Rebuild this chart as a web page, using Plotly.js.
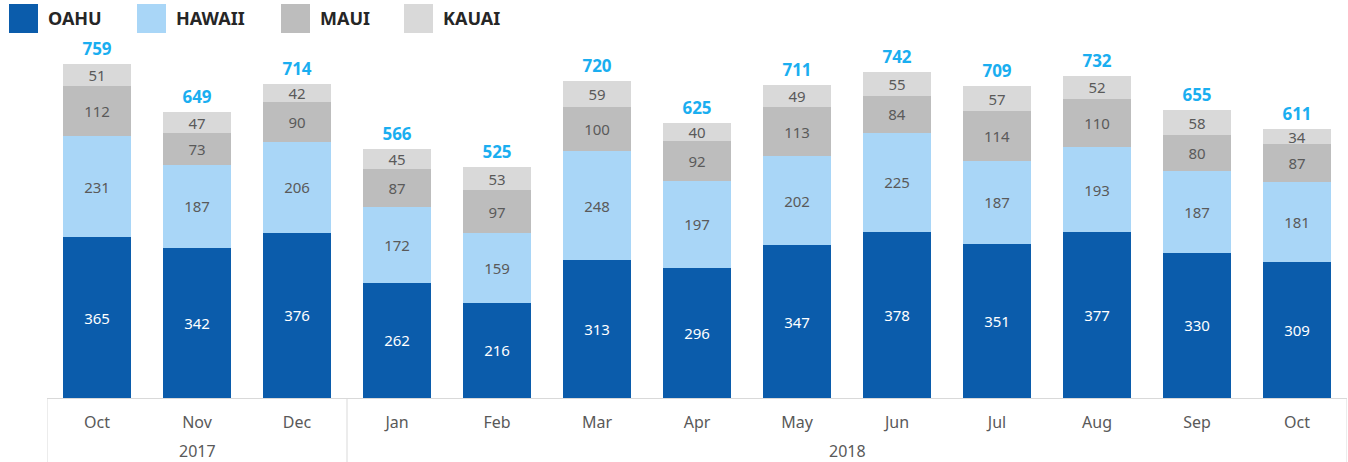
<!DOCTYPE html>
<html><head><meta charset="utf-8">
<script src="https://cdn.plot.ly/plotly-3.0.1.min.js"></script>
<style>html,body{margin:0;padding:0;background:#fff;}#chart{width:1348px;height:462px;}</style>
</head><body><div id="chart"></div>
<script>
const years  = ['2017','2017','2017','2018','2018','2018','2018','2018','2018','2018','2018','2018','2018'];
const months = ['Oct','Nov','Dec','Jan','Feb','Mar','Apr','May','Jun','Jul','Aug','Sep','Oct'];
const oahu   = [365,342,376,262,216,313,296,347,378,351,377,330,309];
const hawaii = [231,187,206,172,159,248,197,202,225,187,193,187,181];
const maui   = [112,73,90,87,97,100,92,113,84,114,110,80,87];
const kauai  = [51,47,42,45,53,59,40,49,55,57,52,58,34];
const totals = [759,649,714,566,525,720,625,711,742,709,732,655,611];
const seriesNames = ['OAHU','HAWAII','MAUI','KAUAI'];
const seriesColors = ['#0b5cab','#a9d6f7','#bdbdbd','#d9d9d9'];
const textColors = ['#ffffff','#5a5a5a','#5a5a5a','#5a5a5a'];
const seriesData = [oahu, hawaii, maui, kauai];

const FONT = 'Noto Sans, Open Sans, sans-serif';
const cats = months.map((m, i) => years[i] + ' ' + m);
const traces = seriesData.map((vals, i) => ({
  type: 'bar', x: cats, y: vals, name: seriesNames[i],
  marker: {color: seriesColors[i], line: {width: 0}},
  text: vals.map(String), textposition: 'inside', insidetextanchor: 'middle', textangle: 0,
  textfont: {family: FONT, size: 15, color: textColors[i]},
  constraintext: 'none', hoverinfo: 'skip', showlegend: false
}));
traces.push({
  type: 'scatter', mode: 'markers+text', x: cats, y: totals,
  marker: {size: 6, opacity: 0},
  text: totals.map(String), textposition: 'top center',
  textfont: {family: FONT, size: 17, color: '#1aaef0', weight: 'bold'},
  hoverinfo: 'skip', showlegend: false, cliponaxis: false
});

const PH = 358, PW = 1300, ML = 47, PB = 398;
const shapes = [], annotations = [];
// custom legend built from series names
const legendPos = [9, 137, 281, 404];
seriesNames.forEach((n, i) => {
  const x0 = legendPos[i];
  shapes.push({type: 'rect', xref: 'paper', yref: 'paper', x0: (x0-ML)/PW, x1: (x0+29-ML)/PW,
    y0: (PB-33)/PH, y1: (PB-4)/PH, fillcolor: seriesColors[i], line: {width: 0}});
  annotations.push({xref: 'paper', yref: 'paper', x: (x0+37-ML)/PW, y: (PB-18)/PH,
    xanchor: 'left', yanchor: 'middle', text: '<b>' + n + '</b>', showarrow: false,
    font: {family: FONT, size: 18, color: '#262626'}});
});
// year groups: dividers and labels derived from the years array
const groups = [];
years.forEach((y, i) => {
  if (!groups.length || groups[groups.length-1].y !== y) groups.push({y: y, s: i, e: i});
  else groups[groups.length-1].e = i;
});
const divY0 = -64/PH;
groups.forEach((g, k) => {
  if (k === 0) shapes.push({type: 'line', xref: 'x', yref: 'paper', x0: g.s-0.5, x1: g.s-0.5, y0: divY0, y1: 0, line: {color: '#d9d9d9', width: 1}});
  shapes.push({type: 'line', xref: 'x', yref: 'paper', x0: g.e+0.5, x1: g.e+0.5, y0: divY0, y1: 0, line: {color: '#d9d9d9', width: 1}});
  annotations.push({xref: 'x', yref: 'paper', x: (g.s + g.e)/2, y: -53/PH, xanchor: 'center', yanchor: 'middle',
    text: g.y, showarrow: false, font: {family: FONT, size: 16, color: '#595959'}});
});

const layout = {
  width: 1348, height: 462,
  margin: {l: ML, r: 1, t: 40, b: 64},
  paper_bgcolor: '#fff', plot_bgcolor: '#fff',
  barmode: 'stack', bargap: 0.32,
  showlegend: false,
  xaxis: {type: 'category', range: [-0.5, cats.length - 0.5], showline: true, linecolor: '#d9d9d9', linewidth: 1,
    tickvals: cats, ticktext: months, ticks: '', ticklabelstandoff: 10,
    tickfont: {family: FONT, size: 16, color: '#595959'}, showgrid: false, zeroline: false},
  yaxis: {range: [0, 813.6], visible: false, showgrid: false, zeroline: false},
  shapes: shapes, annotations: annotations,
  font: {family: FONT}
};
Plotly.newPlot('chart', traces, layout, {displayModeBar: false, staticPlot: true});
</script></body></html>
